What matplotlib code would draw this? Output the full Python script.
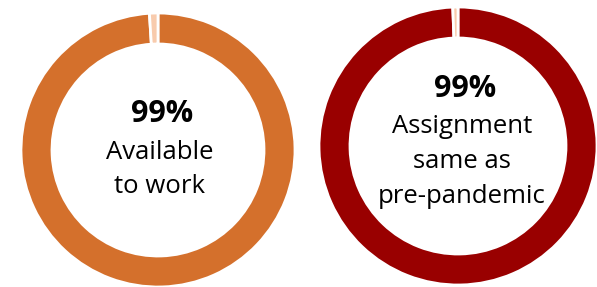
import matplotlib
matplotlib.use('Agg')
import matplotlib.pyplot as plt

# share of staff (percent) for each ring, main slice first
available_share = [99, 1]
assignment_share = [99.4, 0.6]
headline_labels = ["99%", "99%"]
caption_left = ["Available", "to work"]
caption_right = ["Assignment", "same as", "pre-pandemic"]

orange = "#D4702C"
dark_red = "#990000"
peach = "#F8CBAD"

plt.rcParams['font.family'] = ['Open Sans', 'DejaVu Sans']

fig = plt.figure(figsize=(5.97, 2.87), dpi=100)
ax = fig.add_axes([0, 0, 1, 1])

wedge_style = dict(width=31, edgecolor='white', linewidth=2)

ax.pie(available_share, colors=[orange, peach], startangle=90, counterclock=False,
       center=(158, 137), radius=137, wedgeprops=wedge_style, frame=True)
ax.pie(assignment_share, colors=[dark_red, peach], startangle=90, counterclock=False,
       center=(458, 141), radius=139, wedgeprops=wedge_style, frame=True)
ax.set_xlim(0, 597)
ax.set_ylim(0, 287)
ax.set_aspect('equal')
ax.axis('off')

# left ring text
ax.text(162, 287 - 122, headline_labels[0], ha='center', va='baseline',
        fontsize=22, fontweight='bold', color='black')
for i, line in enumerate(caption_left):
    ax.text(160, 287 - 159 - i * 34, line, ha='center', va='baseline',
            fontsize=18.5, color='black')

# right ring text
ax.text(465, 287 - 97, headline_labels[1], ha='center', va='baseline',
        fontsize=22, fontweight='bold', color='black')
for i, line in enumerate(caption_right):
    ax.text(462, 287 - 133 - i * 35, line, ha='center', va='baseline',
            fontsize=18.5, color='black')

fig.savefig('out.png', dpi=100, facecolor='white')
